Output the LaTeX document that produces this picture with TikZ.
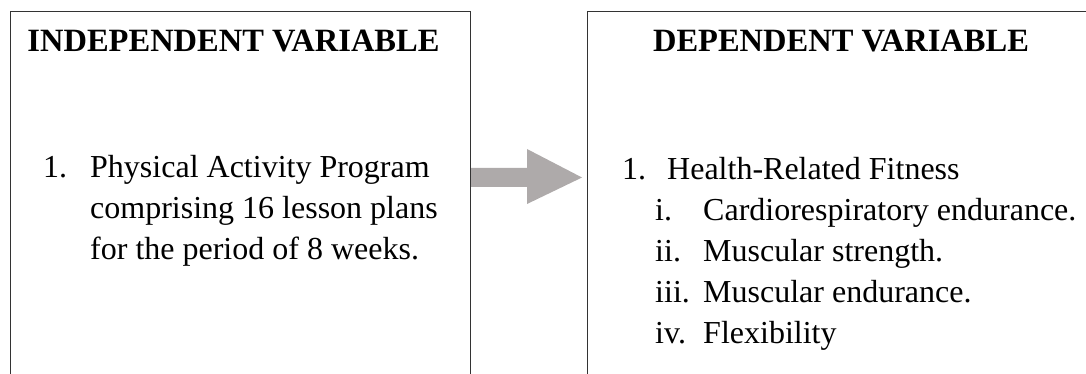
\documentclass[tikz,border=0pt]{standalone}
\usepackage{fontspec}
\setmainfont{Liberation Serif}
\usetikzlibrary{calc}
\definecolor{arrowgray}{RGB}{174,170,170}

\begin{document}
\begin{tikzpicture}[x=1pt,y=-1pt,
	boxline/.style={line width=1pt, draw=black!80},
	heading/.style={font=\fontsize{32.5}{39}\selectfont\bfseries, inner sep=0pt, anchor=base},
	item/.style={font=\fontsize{32}{40}\selectfont, inner sep=0pt, anchor=base west}]
	\useasboundingbox (0,0) rectangle (1086,374);
	\clip (0,0) rectangle (1086,374);
	\coordinate (tail) at (470,177.5);
	\coordinate (tip) at (582,177.5);
	\fill[arrowgray] ($(tail)+(0,-9.5)$) -- ($(tip)+(-55,-9.5)$) -- ($(tip)+(-55,-28.5)$) -- (tip)
		-- ($(tip)+(-55,26.5)$) -- ($(tip)+(-55,9.5)$) -- ($(tail)+(0,9.5)$) -- cycle;
	\draw[boxline] (10,400) -- (10,12) -- (470,12) -- (470,400);
	\draw[boxline] (587,400) -- (587,12) -- (1100,12);
	\node[heading] (ivhead) at (233.5,52) {INDEPENDENT VARIABLE};
	\node[heading] (dvhead) at (841,52) {DEPENDENT VARIABLE};
	\node[item] (ivnum) at (43,178) {1.};
	\node[item] (ivone) at (90,178) {Physical Activity Program};
	\node[item] (ivtwo) at (90,218.5) {comprising 16 lesson plans};
	\node[item] (ivthree) at (90,259) {for the period of 8 weeks.};
	\node[item] (dvnum) at (622,179) {1.};
	\node[item] (dvhrf) at (667,179) {Health-Related Fitness};
	\node[item] (dvi) at (655,220) {i.};
	\node[item] (dvcard) at (703,220) {Cardiorespiratory endurance.};
	\node[item] (dvii) at (655,261) {ii.};
	\node[item] (dvstr) at (703,261) {Muscular strength.};
	\node[item] (dviii) at (655,302) {iii.};
	\node[item] (dvend) at (703,302) {Muscular endurance.};
	\node[item] (dviv) at (655,343) {iv.};
	\node[item] (dvflex) at (703,343) {Flexibility};
\end{tikzpicture}
\end{document}
